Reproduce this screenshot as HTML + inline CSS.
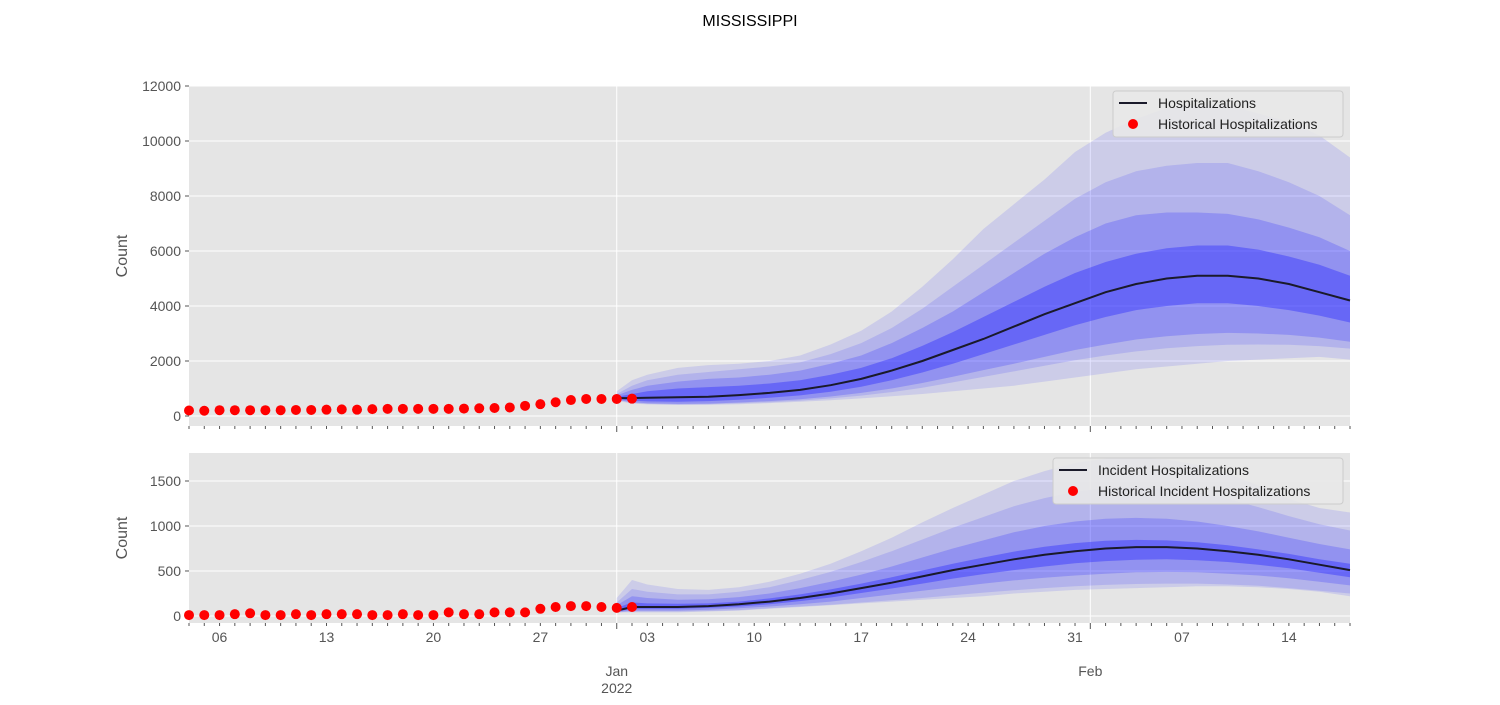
<!DOCTYPE html>
<html><head><meta charset="utf-8">
<style>
html,body{margin:0;padding:0;background:#fff;}
svg text{font-family:"Liberation Sans","DejaVu Sans",sans-serif;}
</style></head>
<body>
<svg id="chart" width="1500" height="700" viewBox="0 0 1500 700" xmlns="http://www.w3.org/2000/svg">
<text x="750" y="26" text-anchor="middle" font-size="16" fill="#000">MISSISSIPPI</text>
<g id="top"></g>
<g id="bot"></g>
</svg>
<script>
// ---- data ----
const fcDays = [28,29,30,32,34,36,38,40,42,44,46,48,50,52,54,56,58,60,62,64,66,68,70,72,74,76];
const histTop = [200,190,210,210,210,210,210,220,220,230,240,230,250,260,260,260,260,260,270,280,290,310,370,430,500,580,620,620,620,630];
const histBot = [10,10,10,20,30,10,10,20,10,20,20,20,10,10,20,10,10,40,20,20,40,40,40,80,100,110,110,100,90,100];
const topQ975 = [900,1300,1500,1750,1850,1900,2000,2200,2600,3100,3800,4700,5700,6800,7700,8600,9600,10300,10800,11200,11300,11300,11000,10700,10200,9400];
const topQ90 = [800,1100,1300,1500,1600,1700,1800,1950,2250,2650,3200,3900,4700,5500,6300,7100,7900,8500,8900,9100,9200,9200,8900,8500,8000,7300];
const topQ75 = [750,950,1100,1250,1350,1400,1500,1650,1900,2200,2650,3200,3800,4500,5200,5900,6500,7000,7300,7400,7400,7350,7150,6850,6500,6000];
const topQ60 = [700,800,900,1000,1050,1100,1180,1300,1500,1750,2100,2550,3050,3600,4150,4700,5200,5600,5900,6100,6200,6200,6050,5800,5500,5100];
const topMed = [650,650,660,680,700,760,840,950,1120,1350,1650,2000,2400,2800,3250,3700,4100,4500,4800,5000,5100,5100,5000,4800,4500,4200];
const topQ40 = [620,560,530,520,540,590,660,750,880,1060,1300,1580,1900,2250,2600,2950,3300,3600,3850,4000,4100,4100,4000,3850,3650,3400];
const topQ25 = [590,500,460,440,450,490,540,610,710,840,1000,1200,1430,1670,1900,2150,2400,2600,2780,2900,2980,3020,3000,2950,2850,2700];
const topQ10 = [580,480,440,420,430,460,500,560,640,740,870,1030,1220,1420,1620,1830,2030,2200,2350,2460,2540,2590,2600,2590,2540,2450];
const topQ025 = [550,450,420,400,410,430,470,520,570,640,720,800,900,1000,1100,1250,1400,1550,1700,1800,1900,2000,2050,2100,2150,2050];
const botQ975 = [200,400,350,300,290,320,380,470,580,720,870,1040,1200,1350,1500,1610,1700,1750,1760,1740,1680,1580,1450,1300,1200,1150];
const botQ90 = [150,300,270,240,240,270,320,400,490,600,720,850,980,1100,1220,1310,1380,1420,1430,1410,1370,1300,1210,1110,1020,950];
const botQ75 = [120,220,200,180,185,210,250,310,380,460,550,650,750,840,930,1000,1050,1080,1090,1080,1050,1000,940,870,800,740];
const botQ60 = [90,150,140,135,140,160,195,240,295,360,430,505,580,650,715,770,810,835,845,840,820,785,740,690,630,580];
const botMed = [60,100,100,100,110,130,160,200,250,310,370,440,510,570,630,680,720,750,765,765,750,720,680,630,570,510];
const botQ40 = [50,80,80,80,90,105,130,165,205,255,305,360,415,465,510,550,585,610,625,630,620,600,570,530,480,430];
const botQ25 = [45,60,60,60,70,85,105,130,160,200,240,280,320,360,395,425,450,470,485,490,485,470,450,420,380,340];
const botQ10 = [40,50,50,50,55,65,85,105,125,150,175,200,230,260,285,310,330,345,355,360,360,350,335,310,280,250];
const botQ025 = [40,40,40,40,50,60,80,100,120,140,160,180,200,220,250,270,290,300,310,320,330,330,320,300,270,220];
const topYTicks = [0,2000,4000,6000,8000,10000,12000];
const botYTicks = [0,500,1000,1500];
const weekDays = [2,9,16,23,30,37,44,51,58,65,72];
const weekLabels = ["06","13","20","27","03","10","17","24","31","07","14"];
const monthDays = [28,59];
const monthLabels = [["Jan","2022"],["Feb"]];

const NS = "http://www.w3.org/2000/svg";
const X0 = 189, X1 = 1350, DMAX = 76;
const x = d => X0 + (X1 - X0) * d / DMAX;
function mk(tag, attrs, parent){ const e = document.createElementNS(NS, tag); for (const k in attrs) e.setAttribute(k, attrs[k]); parent.appendChild(e); return e; }

function panel(g, top, bottom, vmin, vmax, yTicks, bands, med, hist, labels, legendW, legendX, showLabels){
  const y = v => bottom - (bottom - top) * (v - vmin) / (vmax - vmin);
  const bg = mk('rect', {x:X0, y:top, width:X1-X0, height:bottom-top, fill:'#e5e5e5'}, g);
  
  
  yTicks.forEach(t => {
    const l = mk('line', {x1:X0, x2:X1, y1:y(t), y2:y(t), stroke:'#fff', 'stroke-width':1}, g);
    
    
    mk('line', {x1:X0-4, x2:X0, y1:y(t), y2:y(t), stroke:'#555'}, g);
    const tx = mk('text', {x:X0-8, y:y(t)+5, 'text-anchor':'end', 'font-size':14, fill:'#555'}, g);
    tx.textContent = t;
    
    
  });
  monthDays.forEach(d => {
    const l = mk('line', {x1:x(d), x2:x(d), y1:top, y2:bottom, stroke:'#fff'}, g);
    
    
  });
  const alphas = [0.13, 0.15, 0.24, 0.4];
  bands.forEach((pair, i) => {
    const [hi, lo] = pair;
    let d = '';
    fcDays.forEach((dd, k) => { d += (k ? 'L' : 'M') + x(dd).toFixed(1) + ',' + y(hi[k]).toFixed(1); });
    for (let k = fcDays.length - 1; k >= 0; k--) d += 'L' + x(fcDays[k]).toFixed(1) + ',' + y(lo[k]).toFixed(1);
    const p = mk('path', {d:d + 'Z', fill:'rgb(40,40,255)', 'fill-opacity':alphas[i]}, g);
    
    
  });
  let md = '';
  fcDays.forEach((dd, k) => { md += (k ? 'L' : 'M') + x(dd).toFixed(1) + ',' + y(med[k]).toFixed(1); });
  const ml = mk('path', {d:md, fill:'none', stroke:'#1a1a2a', 'stroke-width':2}, g);
  
  
  hist.forEach((v, i) => {
    const c = mk('circle', {cx:x(i), cy:y(v), r:5, fill:'#ff0000'}, g);
    
    
  });
  for (let d = 0; d <= DMAX; d++) {
    const major = monthDays.includes(d);
    mk('line', {x1:x(d), x2:x(d), y1:bottom, y2:bottom + (major ? 6 : 3), stroke:'#555'}, g);
  }
  if (showLabels) {
    weekDays.forEach((d, i) => {
      const t = mk('text', {x:x(d), y:bottom+19, 'text-anchor':'middle', 'font-size':14, fill:'#555'}, g);
      t.textContent = weekLabels[i];
      
      
    });
    monthDays.forEach((d, i) => {
      monthLabels[i].forEach((s, j) => {
        const t = mk('text', {x:x(d), y:bottom+53+j*17, 'text-anchor':'middle', 'font-size':14, fill:'#555'}, g);
        t.textContent = s;
        
        
      });
    });
  }
  const yl = mk('text', {x:0, y:0, transform:`translate(${X0-62},${(top+bottom)/2}) rotate(-90)`, 'text-anchor':'middle', 'font-size':16, fill:'#555'}, g);
  yl.textContent = 'Count';
  
  
  const lg = mk('g', {}, g);
  
  
  mk('rect', {x:legendX, y:top+5, width:legendW, height:46, rx:3, fill:'#e8e8e8', stroke:'#ccc', 'fill-opacity':0.9}, lg);
  mk('line', {x1:legendX+6, x2:legendX+34, y1:top+17, y2:top+17, stroke:'#1a1a2a', 'stroke-width':2}, lg);
  mk('circle', {cx:legendX+20, cy:top+38, r:5, fill:'#ff0000'}, lg);
  labels.forEach((s, i) => {
    const t = mk('text', {x:legendX+45, y:top+22+i*21, 'font-size':14, fill:'#222'}, lg);
    t.textContent = s;
    
    
  });
}

panel(document.getElementById('top'), 86, 426, -364, 12000, topYTicks,
  [[topQ975, topQ025],[topQ90, topQ10],[topQ75, topQ25],[topQ60, topQ40]],
  topMed, histTop, ['Hospitalizations','Historical Hospitalizations'], 230, 1113, false);
panel(document.getElementById('bot'), 453, 623, -78, 1811, botYTicks,
  [[botQ975, botQ025],[botQ90, botQ10],[botQ75, botQ25],[botQ60, botQ40]],
  botMed, histBot, ['Incident Hospitalizations','Historical Incident Hospitalizations'], 290, 1053, true);
</script>
</body></html>
